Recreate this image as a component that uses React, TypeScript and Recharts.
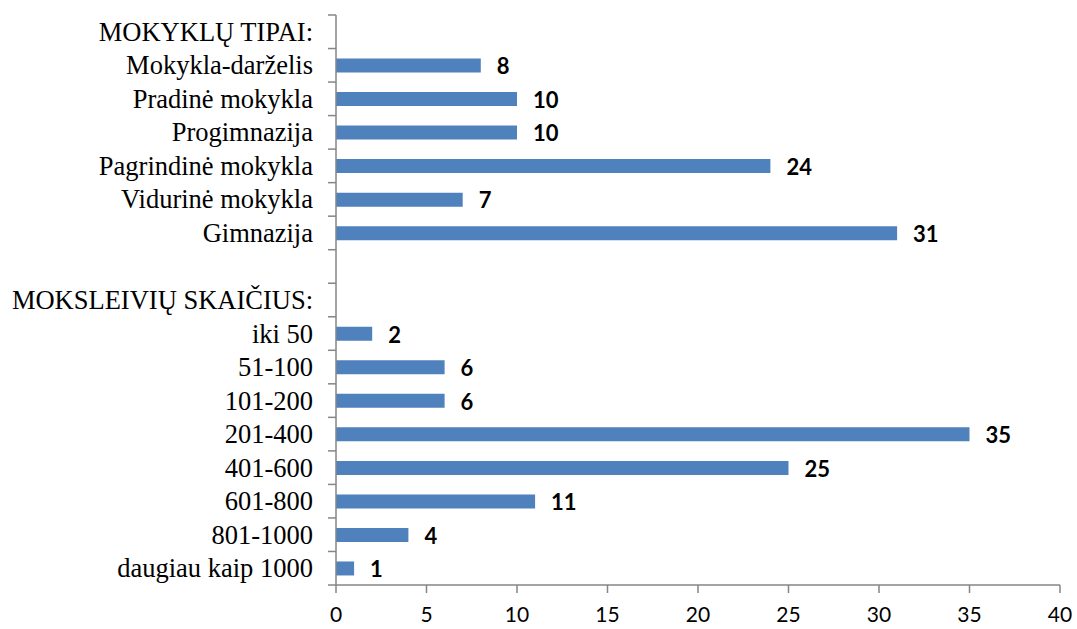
import React from "react";
import { BarChart, Bar, XAxis, YAxis, LabelList } from "recharts";

const categories = [
  "MOKYKLŲ TIPAI:",
  "Mokykla-darželis",
  "Pradinė mokykla",
  "Progimnazija",
  "Pagrindinė mokykla",
  "Vidurinė mokykla",
  "Gimnazija",
  "",
  "MOKSLEIVIŲ SKAIČIUS:",
  "iki 50",
  "51-100",
  "101-200",
  "201-400",
  "401-600",
  "601-800",
  "801-1000",
  "daugiau kaip 1000",
];

const values: (number | null)[] = [
  null, 8, 10, 10, 24, 7, 31, null, null, 2, 6, 6, 35, 25, 11, 4, 1,
];

const xTicks = [0, 5, 10, 15, 20, 25, 30, 35, 40];

const data = categories.map((name, i) => ({ name, value: values[i] }));

const W = 1077;
const H = 629;
const TOP = 15;
const X_AXIS_H = 44;
const BAND = (H - TOP - X_AXIS_H) / categories.length;
const AXIS_COLOR = "#868686";
const BAR_COLOR = "#4f81bd";

// category label + excel style tick marks between the rows
function CategoryTick(props: any) {
  const { x, y, payload, index } = props;
  const lineX1 = x + 15;
  const lineX2 = x + 23;
  return (
    <g>
      <line x1={lineX1} x2={lineX2} y1={y - BAND / 2} y2={y - BAND / 2} stroke={AXIS_COLOR} strokeWidth={1.5} />
      {index === categories.length - 1 && (
        <line x1={lineX1} x2={lineX2} y1={y + BAND / 2} y2={y + BAND / 2} stroke={AXIS_COLOR} strokeWidth={1.5} />
      )}
      <text
        x={x}
        y={y}
        dy="0.34em"
        textAnchor="end"
        fontFamily="'Liberation Serif', 'Times New Roman', serif"
        fontSize={26.5}
        fill="#000"
      >
        {payload.value}
      </text>
    </g>
  );
}

function ValueLabel(props: any) {
  const { x, y, width, height, value } = props;
  if (value == null) return null;
  return (
    <text
      x={x + width + 16}
      y={y + height / 2}
      dy="0.4em"
      fontFamily="Lato, 'Open Sans', sans-serif"
      fontWeight="bold"
      fontSize={22}
      fill="#000"
    >
      {value}
    </text>
  );
}

function NumberTick(props: any) {
  const { x, y, payload } = props;
  return (
    <text
      x={x}
      y={y}
      dy="0.72em"
      textAnchor="middle"
      fontFamily="Lato, sans-serif"
      fontSize={21}
      fill="#000"
    >
      {payload.value}
    </text>
  );
}

export default function App() {
  return (
    <div style={{ position: "absolute", left: 0, top: 0, background: "#fff" }}>
      <BarChart
        width={W}
        height={H}
        data={data}
        layout="vertical"
        margin={{ top: TOP, right: 17, bottom: 0, left: 0 }}
      >
        <XAxis
          type="number"
          domain={[0, 40]}
          ticks={xTicks}
          height={X_AXIS_H}
          tickSize={8}
          tickMargin={14}
          stroke={AXIS_COLOR}
          strokeWidth={1.5}
          tick={(p: any) => <NumberTick {...p} />}
        />
        <YAxis
          type="category"
          dataKey="name"
          width={336}
          tickLine={false}
          tickSize={0}
          tickMargin={23}
          interval={0}
          stroke={AXIS_COLOR}
          strokeWidth={1.5}
          tick={(p: any) => <CategoryTick {...p} />}
        />
        <Bar dataKey="value" fill={BAR_COLOR} barSize={14} isAnimationActive={false}>
          <LabelList dataKey="value" content={(p: any) => <ValueLabel {...p} />} />
        </Bar>
      </BarChart>
    </div>
  );
}
